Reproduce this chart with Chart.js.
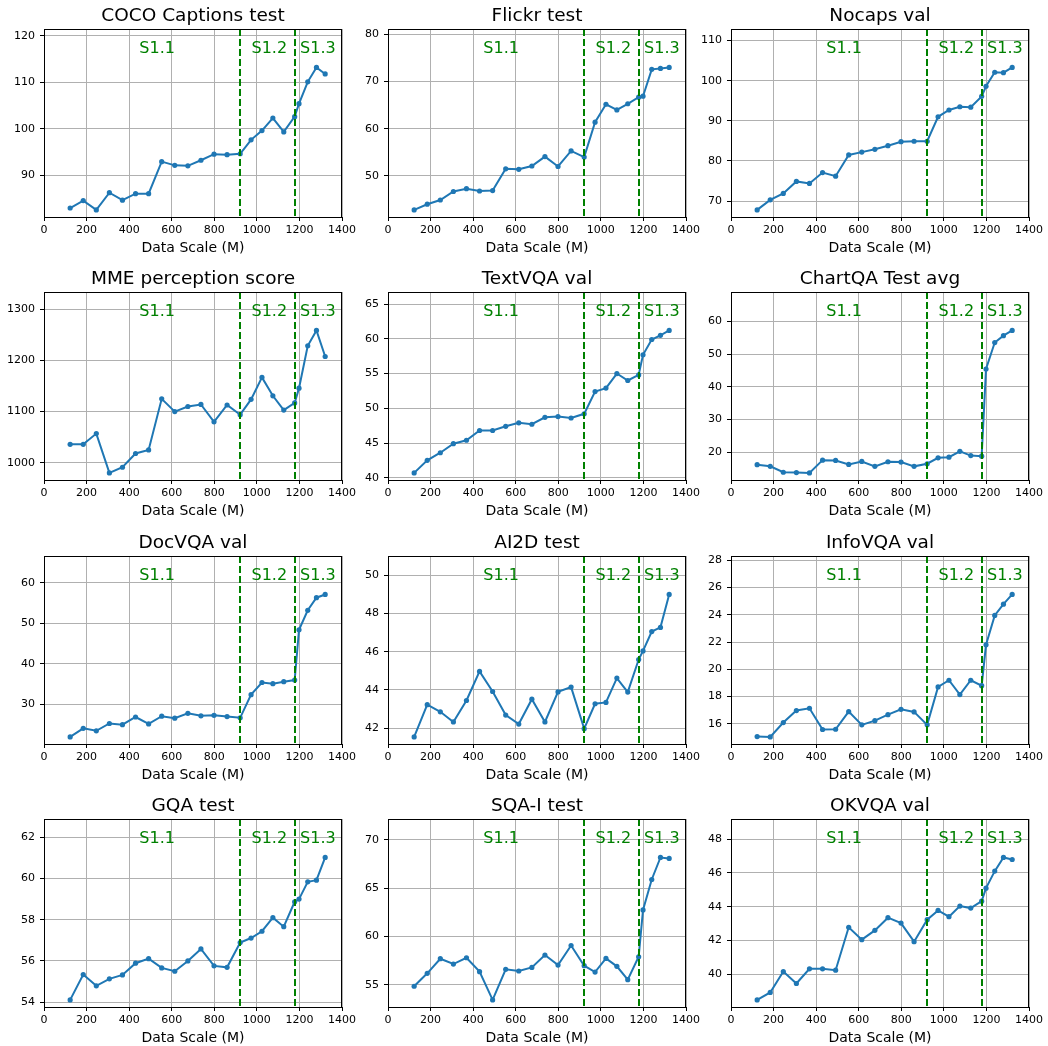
<!DOCTYPE html>
<html>
<head>
<meta charset="utf-8">
<script src="https://cdn.jsdelivr.net/npm/chart.js@4.4.0/dist/chart.umd.min.js"></script>
<style>
  html, body { margin: 0; padding: 0; background: #fff; overflow: hidden; }
  canvas { position: absolute; }
</style>
</head>
<body>
<script>
'use strict';

// data scale (M) of each checkpoint
var dataScale = [122.88, 184.32, 245.76, 307.2, 368.64, 430.08, 491.52, 552.96, 614.4, 675.84, 737.28,
  798.72, 860.16, 921.6, 972.8, 1024, 1075.2, 1126.4, 1177.6, 1198.08, 1239.04, 1280, 1320.96];
var xTicks = [0, 200, 400, 600, 800, 1000, 1200, 1400];

// stage boundaries and labels
var stageBounds = [921.6, 1177.6];
var stageNames = ['S1.1', 'S1.2', 'S1.3'];
var stageLabelX = [448, 975, 1203];

// benchmark scores
var cocoCaptions = [82.9, 84.5, 82.5, 86.2, 84.6, 86.0, 86.0, 92.9, 92.1, 92.0, 93.2, 94.5, 94.4, 94.6,
  97.6, 99.6, 102.3, 99.3, 102.6, 105.4, 110.1, 113.2, 111.8];
var flickr = [42.8, 44.0, 44.9, 46.7, 47.3, 46.8, 46.9, 51.5, 51.4, 52.1, 54.1, 52.0, 55.3, 54.0,
  61.4, 65.2, 64.0, 65.3, 66.7, 66.9, 72.6, 72.8, 73.0];
var nocaps = [67.8, 70.3, 71.9, 74.9, 74.4, 77.1, 76.2, 81.5, 82.2, 82.9, 83.8, 84.8, 84.9, 84.9,
  91.0, 92.7, 93.5, 93.4, 96.1, 98.6, 102.1, 102.0, 103.3];
var mme = [1036, 1036, 1057, 980, 991, 1018, 1025, 1125, 1100, 1110, 1114, 1080, 1113, 1094,
  1124, 1167, 1131, 1103, 1117, 1146, 1229, 1259, 1208];
var textVqa = [40.7, 42.5, 43.6, 44.9, 45.4, 46.8, 46.8, 47.4, 47.9, 47.7, 48.7, 48.8, 48.6, 49.2,
  52.4, 52.9, 55.0, 54.0, 54.8, 57.7, 59.9, 60.5, 61.2];
var chartQa = [16.2, 15.7, 13.9, 13.8, 13.7, 17.6, 17.5, 16.3, 17.2, 15.7, 17.1, 17.0, 15.7, 16.5,
  18.3, 18.5, 20.3, 19.0, 18.8, 45.5, 53.6, 55.7, 57.3];
var docVqa = [22.0, 24.1, 23.5, 25.3, 25.0, 26.9, 25.2, 27.1, 26.6, 27.8, 27.2, 27.3, 27.0, 26.7,
  32.4, 35.4, 35.1, 35.6, 36.0, 48.4, 53.2, 56.3, 57.1];
var ai2d = [41.55, 43.23, 42.86, 42.33, 43.45, 44.97, 43.92, 42.69, 42.22, 43.52, 42.33, 43.9, 44.15, 41.98,
  43.28, 43.35, 44.62, 43.89, 45.59, 46.04, 47.05, 47.27, 48.99];
var infoVqa = [15.07, 15.05, 16.1, 16.98, 17.15, 15.59, 15.61, 16.9, 15.93, 16.24, 16.68, 17.07, 16.88, 15.93,
  18.71, 19.2, 18.15, 19.2, 18.8, 21.8, 23.95, 24.78, 25.49];
var gqa = [54.11, 55.34, 54.79, 55.13, 55.32, 55.89, 56.11, 55.66, 55.5, 56.0, 56.58, 55.76, 55.69, 56.89,
  57.11, 57.44, 58.1, 57.66, 58.87, 59.0, 59.84, 59.92, 61.02];
var sqaI = [54.85, 56.19, 57.7, 57.15, 57.8, 56.36, 53.44, 56.6, 56.43, 56.8, 58.08, 57.04, 59.07, 56.98,
  56.32, 57.73, 56.91, 55.53, 57.9, 62.75, 65.9, 68.18, 68.08];
var okVqa = [38.48, 38.92, 40.16, 39.45, 40.32, 40.32, 40.24, 42.78, 42.05, 42.6, 43.35, 43.03, 41.93, 43.23,
  43.78, 43.41, 44.04, 43.92, 44.33, 45.1, 46.11, 46.92, 46.8];

// y tick labels per panel
var cocoTicks = [90, 100, 110, 120];
var flickrTicks = [50, 60, 70, 80];
var nocapsTicks = [70, 80, 90, 100, 110];
var mmeTicks = [1000, 1100, 1200, 1300];
var textVqaTicks = [40, 45, 50, 55, 60, 65];
var chartQaTicks = [20, 30, 40, 50, 60];
var docVqaTicks = [30, 40, 50, 60];
var ai2dTicks = [42, 44, 46, 48, 50];
var infoVqaTicks = [16, 18, 20, 22, 24, 26, 28];
var gqaTicks = [54, 56, 58, 60, 62];
var sqaTicks = [55, 60, 65, 70];
var okVqaTicks = [40, 42, 44, 46, 48];

var panels = [
  { title: 'COCO Captions test', values: cocoCaptions, ticks: cocoTicks },
  { title: 'Flickr test', values: flickr, ticks: flickrTicks },
  { title: 'Nocaps val', values: nocaps, ticks: nocapsTicks },
  { title: 'MME perception score', values: mme, ticks: mmeTicks },
  { title: 'TextVQA val', values: textVqa, ticks: textVqaTicks },
  { title: 'ChartQA Test avg', values: chartQa, ticks: chartQaTicks },
  { title: 'DocVQA val', values: docVqa, ticks: docVqaTicks },
  { title: 'AI2D test', values: ai2d, ticks: ai2dTicks },
  { title: 'InfoVQA val', values: infoVqa, ticks: infoVqaTicks },
  { title: 'GQA test', values: gqa, ticks: gqaTicks },
  { title: 'SQA-I test', values: sqaI, ticks: sqaTicks },
  { title: 'OKVQA val', values: okVqa, ticks: okVqaTicks }
];

var FONT = '"DejaVu Sans", sans-serif';
var colLeft = [0, 344, 687];
var rowTop = [0, 263, 527, 790];
var PAD_L = 44, PAD_T = 29, PAD_R = 16, PAD_B = 44, AX_W = 299, AX_H = 188;

// matplotlib-like auto limits with headroom for the stage labels
function yRange(vals) {
  var lo = Math.min.apply(null, vals), hi = Math.max.apply(null, vals), r = hi - lo;
  var min = lo - 0.05 * r, top = hi + 0.05 * r;
  return { min: min, max: top + 0.2 * (top - min) };
}

function plain(v) { return String(v); }

var stagePlugin = {
  id: 'stages',
  afterDatasetsDraw: function(chart, args, opts) {
    var ctx = chart.ctx, a = chart.chartArea, xs = chart.scales.x;
    ctx.save();
    // stage boundaries
    ctx.strokeStyle = '#008000';
    ctx.lineWidth = 2;
    ctx.setLineDash([7, 3]);
    stageBounds.forEach(function(v) {
      var px = Math.round(xs.getPixelForValue(v));
      ctx.beginPath();
      ctx.moveTo(px, a.top);
      ctx.lineTo(px, a.bottom);
      ctx.stroke();
    });
    ctx.setLineDash([]);
    ctx.fillStyle = '#008000';
    ctx.font = '16px ' + FONT;
    ctx.textAlign = 'left';
    ctx.textBaseline = 'alphabetic';
    stageNames.forEach(function(s, i) {
      ctx.fillText(s, xs.getPixelForValue(stageLabelX[i]), a.top + 23.5);
    });
    // frame
    ctx.strokeStyle = '#000';
    ctx.lineWidth = 1;
    ctx.strokeRect(Math.round(a.left) + 0.5, Math.round(a.top) + 0.5,
      Math.round(a.right - a.left) - 1, Math.round(a.bottom - a.top));
    // title
    ctx.fillStyle = '#000';
    ctx.font = '18.5px ' + FONT;
    ctx.textAlign = 'center';
    ctx.fillText(opts.title, (a.left + a.right) / 2, a.top - 8.5);
    ctx.restore();
  }
};

panels.forEach(function(p, i) {
  var canvas = document.createElement('canvas');
  canvas.width = PAD_L + AX_W + PAD_R;
  canvas.height = PAD_T + AX_H + PAD_B;
  canvas.style.left = colLeft[i % 3] + 'px';
  canvas.style.top = rowTop[Math.floor(i / 3)] + 'px';
  document.body.appendChild(canvas);

  var yr = yRange(p.values);
  var gridOpts = { color: '#b0b0b0', lineWidth: 1, tickColor: '#000', tickLength: 4, tickWidth: 1 };
  var tickFont = { family: FONT, size: 11 };

  new Chart(canvas, {
    type: 'scatter',
    data: {
      datasets: [{
        data: dataScale.map(function(x, k) { return { x: x, y: p.values[k] }; }),
        showLine: true,
        borderColor: '#1f77b4',
        backgroundColor: '#1f77b4',
        borderWidth: 2,
        pointRadius: 2.6,
        pointBorderWidth: 0,
        tension: 0
      }]
    },
    options: {
      responsive: false,
      animation: false,
      devicePixelRatio: 1,
      layout: { padding: { top: PAD_T, right: PAD_R, left: 0, bottom: 0 } },
      plugins: { legend: { display: false }, tooltip: { enabled: false }, stages: { title: p.title } },
      scales: {
        x: {
          type: 'linear', min: 0, max: 1400,
          afterBuildTicks: function(s) { s.ticks = xTicks.map(function(v) { return { value: v }; }); },
          afterFit: function(s) { s.height = PAD_B; },
          grid: gridOpts,
          border: { color: '#000', width: 1 },
          ticks: { font: tickFont, color: '#000', padding: 3, maxRotation: 0, autoSkip: false, callback: plain },
          title: { display: true, text: 'Data Scale (M)', color: '#000', font: { family: FONT, size: 14 }, padding: { top: 0, bottom: 4 } }
        },
        y: {
          type: 'linear', min: yr.min, max: yr.max,
          afterBuildTicks: function(s) { s.ticks = p.ticks.map(function(v) { return { value: v }; }); },
          afterFit: function(s) { s.width = PAD_L; },
          grid: gridOpts,
          border: { color: '#000', width: 1 },
          ticks: { font: tickFont, color: '#000', padding: 5, autoSkip: false, callback: plain }
        }
      }
    },
    plugins: [stagePlugin]
  });
});
</script>
</body>
</html>
